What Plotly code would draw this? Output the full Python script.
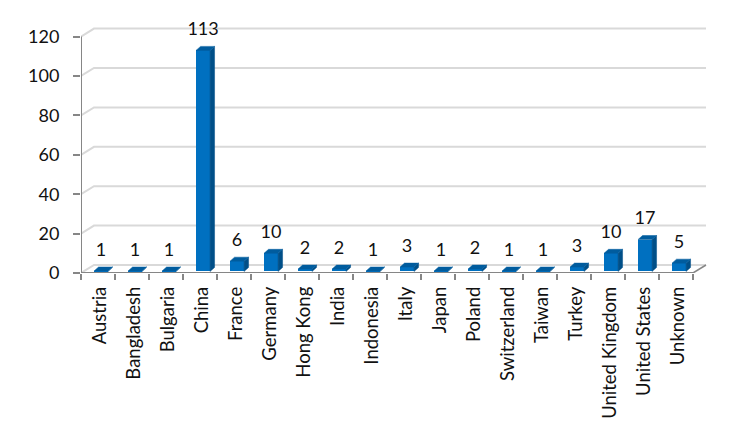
import plotly.graph_objects as go

categories = ["Austria", "Bangladesh", "Bulgaria", "China", "France", "Germany", "Hong Kong", "India",
              "Indonesia", "Italy", "Japan", "Poland", "Switzerland", "Taiwan", "Turkey",
              "United Kingdom", "United States", "Unknown"]
values = [1, 1, 1, 113, 6, 10, 2, 2, 1, 3, 1, 2, 1, 1, 3, 10, 17, 5]
y_ticks = [0, 20, 40, 60, 80, 100, 120]

W, H = 747, 437
X0, X1, CAT = 81, 707, 34
Y0, YTOP, PPU = 273, 22, 1.97
DX, DY = 13 / CAT, 8 / PPU          # wall depth
BAR_W = 14 / CAT
BAR_SHIFT = 0.09
BAR_BASE = 0.8
BDX, BDY = 4.5 / CAT, 4 / PPU       # bar depth
N = len(categories)

FONT = "Lato"
AXIS = "#868686"
GRID = "#d9d9d9"
FRONT, SIDE, TOP = "#0070c0", "#004f88", "#005c9e"

fig = go.Figure()


def line(xs, ys, color, width=2):
    fig.add_trace(go.Scatter(x=xs, y=ys, mode="lines", line=dict(color=color, width=width),
                             hoverinfo="skip", showlegend=False, cliponaxis=False))


def face(xs, ys, color):
    fig.add_trace(go.Scatter(x=xs, y=ys, mode="lines", fill="toself", fillcolor=color,
                             line=dict(color=color, width=0.5),
                             hoverinfo="skip", showlegend=False, cliponaxis=False))


# walls, kept below the bars
for v in y_ticks:
    fig.add_shape(type="path", layer="below", xref="x", yref="y",
                  path=f"M 0 {v} L {DX} {v + DY} L {N + DX} {v + DY}",
                  line=dict(color=GRID, width=2))
fig.add_shape(type="line", layer="below", xref="x", yref="y", x0=N, y0=0, x1=N + DX, y1=DY,
              line=dict(color=AXIS, width=1.5))

# bars: front faces via the bar trace
centers = [i + 0.5 + BAR_SHIFT for i in range(N)]
fig.add_trace(go.Bar(x=centers, y=[v - BAR_BASE for v in values], base=BAR_BASE, width=BAR_W,
                     marker=dict(color=FRONT, line=dict(width=0)), showlegend=False, hoverinfo="skip"))
for c, v in zip(centers, values):
    l, r = c - BAR_W / 2, c + BAR_W / 2
    face([r, r + BDX, r + BDX, r, r], [BAR_BASE, BAR_BASE + BDY, v + BDY, v, BAR_BASE], SIDE)
    face([l, l + BDX, r + BDX, r, l], [v, v + BDY, v + BDY, v, v], TOP)

# front axes
line([0, N], [0, 0], AXIS)
line([0, 0], [0, 120], AXIS)

# data labels
fig.add_trace(go.Scatter(x=centers, y=[v + 5.4 for v in values], mode="text",
                         text=[str(v) for v in values], textposition="top center",
                         textfont=dict(family=FONT, size=18, color="#111111"),
                         hoverinfo="skip", showlegend=False, cliponaxis=False))

fig.update_layout(
    width=W, height=H, margin=dict(l=0, r=0, t=0, b=0),
    paper_bgcolor="white", plot_bgcolor="white", bargap=0, showlegend=False,
    xaxis=dict(domain=[X0 / W, X1 / W], range=[0, (X1 - X0) / CAT], showgrid=False, zeroline=False,
               showline=False, automargin=False,
               tickmode="array", tickvals=[i + 0.56 for i in range(N)], ticktext=categories,
               tickangle=-90, ticks="", ticklen=0, ticklabelstandoff=9,
               tickfont=dict(family=FONT, size=18.5, color="#111111"),
               minor=dict(tickmode="array", tickvals=list(range(N + 1)), ticks="outside",
                          ticklen=6, tickwidth=2, tickcolor=AXIS, showgrid=False)),
    yaxis=dict(domain=[1 - Y0 / H, 1 - YTOP / H], range=[0, (Y0 - YTOP) / PPU], showgrid=False,
               zeroline=False, showline=False, automargin=False,
               tickmode="array", tickvals=y_ticks, ticks="outside", ticklen=7, tickwidth=2,
               ticklabelstandoff=10,
               tickcolor=AXIS, tickfont=dict(family=FONT, size=18, color="#111111")),
)

fig.write_html("out.html", config={"displayModeBar": False},
               post_script="document.body.style.margin='0';")
